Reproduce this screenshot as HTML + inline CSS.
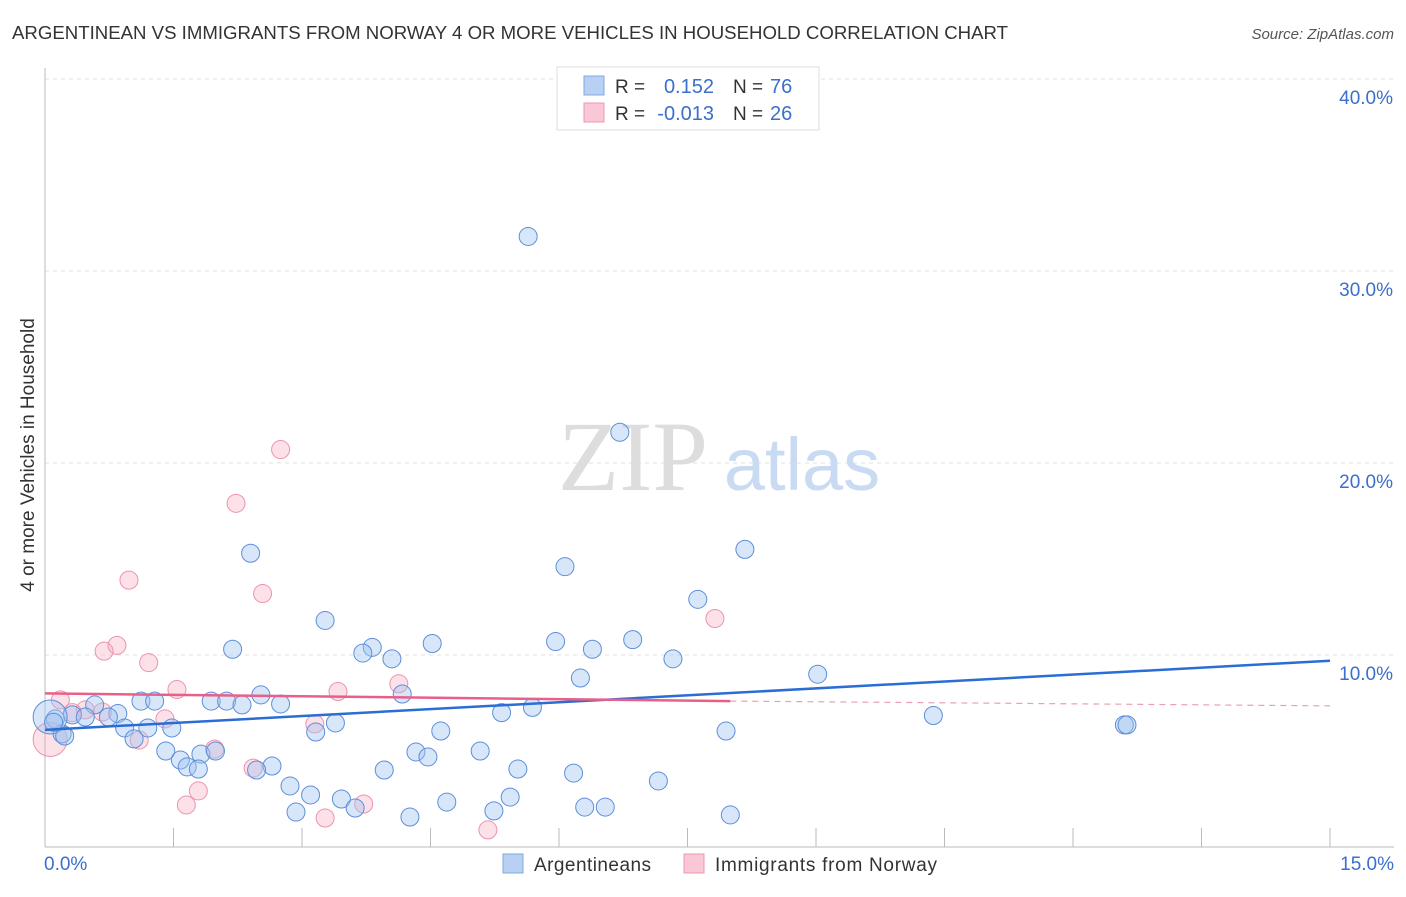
<!DOCTYPE html>
<html><head><meta charset="utf-8"><style>
body{margin:0;background:#fff;font-family:"Liberation Sans",sans-serif}
</style></head><body>
<svg id="chart" width="1406" height="892" xmlns="http://www.w3.org/2000/svg" font-family="Liberation Sans, sans-serif">
<text x="12" y="39" font-size="18" fill="#333" textLength="996" lengthAdjust="spacingAndGlyphs">ARGENTINEAN VS IMMIGRANTS FROM NORWAY 4 OR MORE VEHICLES IN HOUSEHOLD CORRELATION CHART</text>
<text x="1394" y="39" font-size="15" fill="#555" font-style="italic" text-anchor="end">Source: ZipAtlas.com</text>
<g id="grid"></g>
<text x="633" y="490" font-size="100" fill="#ddd" font-family="Liberation Serif, serif" text-anchor="middle">ZIP</text>
<text x="802" y="490" font-size="74" fill="#c9dbf2" text-anchor="middle">atlas</text>
<g id="marks"></g>
<text transform="translate(34,455) rotate(-90)" font-size="19" fill="#333" text-anchor="middle">4 or more Vehicles in Household</text>
<g>
<rect x="557" y="67" width="262" height="63" fill="#fff" stroke="#ddd"/>
<rect x="584" y="76" width="20" height="19" fill="#b8d1f3" stroke="#7fa8e0"/>
<rect x="584" y="103" width="20" height="19" fill="#f9c7d5" stroke="#eb9ab0"/>
<text x="615" y="93" font-size="19" fill="#333">R =</text>
<text x="714" y="93" font-size="20" fill="#3a6fcc" text-anchor="end">0.152</text>
<text x="733" y="93" font-size="19" fill="#333">N =</text>
<text x="770" y="93" font-size="20" fill="#3a6fcc">76</text>
<text x="615" y="120" font-size="19" fill="#333">R =</text>
<text x="714" y="120" font-size="20" fill="#3a6fcc" text-anchor="end">-0.013</text>
<text x="733" y="120" font-size="19" fill="#333">N =</text>
<text x="770" y="120" font-size="20" fill="#3a6fcc">26</text>
</g>
<g>
<rect x="503" y="854" width="20" height="19" fill="#b8d1f3" stroke="#7fa8e0"/>
<text x="534" y="871" font-size="19" fill="#333" textLength="117">Argentineans</text>
<rect x="684" y="854" width="20" height="19" fill="#f9c7d5" stroke="#eb9ab0"/>
<text x="715" y="871" font-size="19" fill="#333" textLength="222">Immigrants from Norway</text>
</g>
</svg>
<script>
const yTicks=[10,20,30,40];
const yTickLabels=["10.0%","20.0%","30.0%","40.0%"];
const xTickLabels=["0.0%","15.0%"];
const blueX=[5.64,6.71,8.17,2.40,6.07,7.62,3.27,2.19,3.82,4.52,5.96,6.86,3.71,4.05,6.39,7.33,9.02,6.25,4.17,2.52,1.12,1.28,1.94,2.12,2.30,2.75,0.58,0.85,0.74,0.32,0.12,0.20,0.06,0.93,1.20,1.48,1.04,3.16,3.39,5.33,5.69,10.37,12.60,12.63,4.62,7.95,1.41,1.82,1.99,4.33,4.47,5.08,1.58,1.66,1.79,2.65,2.47,3.96,5.52,6.17,7.16,2.86,3.10,3.46,3.62,4.69,5.43,2.93,5.24,6.30,6.54,4.26,8.00,0.23,0.47,0.10];
const blueY=[31.8,21.6,15.5,15.3,14.6,12.9,11.8,10.3,10.4,10.6,10.7,10.8,10.1,9.8,10.3,9.8,9.0,8.8,7.97,7.92,7.6,7.6,7.6,7.6,7.4,7.45,7.4,6.95,6.77,6.88,6.67,5.89,6.77,6.2,6.2,6.2,5.63,5.99,6.46,7.0,7.27,6.85,6.36,6.36,6.04,6.04,5.0,4.84,5.0,4.95,4.69,5.0,4.53,4.17,4.06,4.22,4.01,4.01,4.06,3.85,3.44,3.18,2.71,2.5,2.03,2.34,2.6,1.82,1.88,2.08,2.08,1.56,1.67,5.78,6.77,6.5];
const pinkX=[2.75,2.23,0.98,2.54,7.82,0.84,0.69,1.21,1.54,3.42,4.13,0.18,0.47,0.67,1.40,3.15,1.10,2.43,1.98,1.79,1.65,3.72,3.27,5.17,0.06,0.32];
const pinkY=[20.7,17.9,13.9,13.2,11.9,10.5,10.2,9.6,8.2,8.1,8.5,7.66,7.14,7.03,6.67,6.41,5.57,4.11,5.10,2.92,2.19,2.24,1.51,0.89,5.6,7.0];
const blueTrend=[6.1,9.7];
const pinkTrend=[8.0,7.6,7.35];
const X0=45,X1=1330,Y0=847,PXY=19.2;
const sx=v=>X0+(v/15)*(X1-X0);
const sy=v=>Y0-v*PXY;
const NS="http://www.w3.org/2000/svg";
const grid=document.getElementById('grid');
const marks=document.getElementById('marks');
function mk(tag,attrs,parent){const e=document.createElementNS(NS,tag);for(const k in attrs)e.setAttribute(k,attrs[k]);parent.appendChild(e);return e;}
yTicks.forEach((t,i)=>{
 const l=mk('line',{x1:X0,x2:1394,y1:sy(t),y2:sy(t),stroke:'#e2e2e2','stroke-dasharray':'4,4'},grid);
 
 
 const tx=mk('text',{x:1393,y:sy(t)+25,'font-size':19,fill:'#3a6fcc','text-anchor':'end'},grid);
 tx.textContent=yTickLabels[i];
 
 
});
const ax=mk('line',{x1:X0,x2:X0,y1:68,y2:Y0,stroke:'#bbb'},grid);


const bx=mk('line',{x1:X0,x2:1394,y1:Y0,y2:Y0,stroke:'#bbb'},grid);


for(let i=1;i<=10;i++){
 const v=i*1.5;
 const t=mk('line',{x1:sx(v),x2:sx(v),y1:828,y2:Y0,stroke:'#bbb'},grid);
 
 
}
[[0,'start',44],[15,'end',1394]].forEach((d,i)=>{
 const t=mk('text',{x:d[2],y:870,'font-size':19,fill:'#3a6fcc','text-anchor':d[1]},grid);
 t.textContent=xTickLabels[i];
 
 
});
pinkX.forEach((x,i)=>{
 const big=i===24;
 const c=mk('circle',{cx:sx(x),cy:sy(pinkY[i]),r:big?17:9,fill:'rgba(246,170,192,0.35)',stroke:'#ec93ad','stroke-width':1},marks);
 
 
});
blueX.forEach((x,i)=>{
 const big=i===32;
 const c=mk('circle',{cx:sx(x),cy:sy(blueY[i]),r:big?17:9,fill:'rgba(160,196,240,0.42)',stroke:'#5d8fd9','stroke-width':1},marks);
 
 
});
const bt=mk('line',{x1:sx(0),y1:sy(blueTrend[0]),x2:sx(15),y2:sy(blueTrend[1]),stroke:'#2a6dd4','stroke-width':2.5},marks);


const pt=mk('line',{x1:sx(0),y1:sy(pinkTrend[0]),x2:sx(8),y2:sy(pinkTrend[1]),stroke:'#e8608a','stroke-width':2.5},marks);


const pd=mk('line',{x1:sx(8),y1:sy(pinkTrend[1]),x2:sx(15),y2:sy(pinkTrend[2]),stroke:'#e8a0b6','stroke-width':1.2,'stroke-dasharray':'6,5'},marks);


</script>
</body></html>
